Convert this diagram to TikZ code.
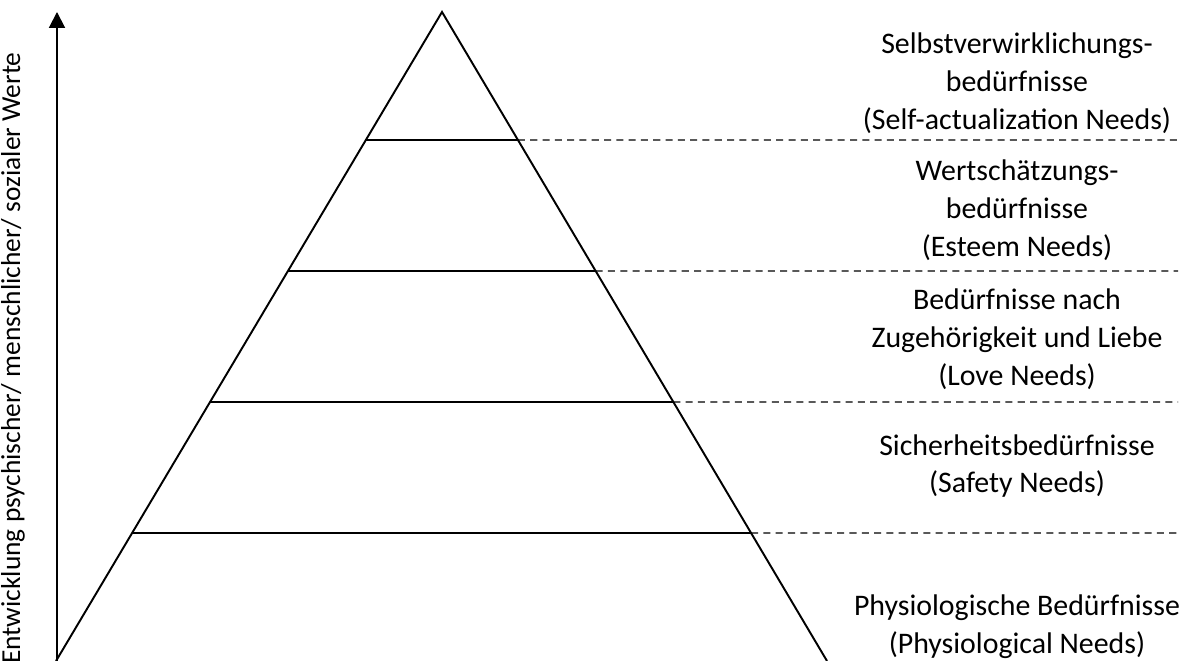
\documentclass[tikz,border=0pt]{standalone}
\usepackage{fontspec}
\setmainfont{Carlito}
\usetikzlibrary{arrows.meta,calc}
\tikzset{
levelline/.style={line width=1.1pt},
leveldash/.style={line width=0.7pt,dash pattern=on 4pt off 3pt},
needtext/.style={align=center,inner sep=0pt,font=\fontsize{17}{21.5}\selectfont},
axistext/.style={inner sep=0pt,font=\fontsize{15.6}{18}\selectfont},
axisarr/.style={line width=1.1pt,-{Triangle[width=9pt,length=9pt]}}
}
\begin{document}
\begin{tikzpicture}[x=0.02cm,y=0.02cm]
\useasboundingbox (0,0) rectangle (1199,661);
% pyramid
\coordinate (apex) at (442,649);
\coordinate (bl) at (56,0);
\coordinate (br) at (827,0);
\draw[levelline,line join=miter] (bl) -- (apex) -- (br);
% levels
\foreach \h/\n in {521/a,390/b,259/c,128/d}{
  \coordinate (l\n) at ($(bl)!{\h/649}!(apex)$);
  \coordinate (r\n) at ($(br)!{\h/649}!(apex)$);
  \coordinate (e\n) at (1178,\h);
  \draw[levelline] (l\n) -- (r\n);
  \draw[leveldash] (r\n) -- (e\n);
}
% axis
\coordinate (ax0) at (57,0);
\coordinate (ax1) at (57,649);
\draw[axisarr] (ax0) -- (ax1);
\node[axistext,rotate=90,anchor=east] (axlabel) at (13,609) {Entwicklung psychischer/ menschlicher/ sozialer Werte};
% labels
\node[needtext] (self) at (1017,578) {Selbstverwirklichungs-\\bedürfnisse\\(Self-actualization Needs)};
\node[needtext] (esteem) at (1017,451) {Wertschätzungs-\\bedürfnisse\\(Esteem Needs)};
\node[needtext] (love) at (1017,322) {Bedürfnisse nach\\Zugehörigkeit und Liebe\\(Love Needs)};
\node[needtext] (safety) at (1017,195) {Sicherheitsbedürfnisse\\(Safety Needs)};
\node[needtext] (phys) at (1017,34) {Physiologische Bedürfnisse\\(Physiological Needs)};
\end{tikzpicture}
\end{document}
